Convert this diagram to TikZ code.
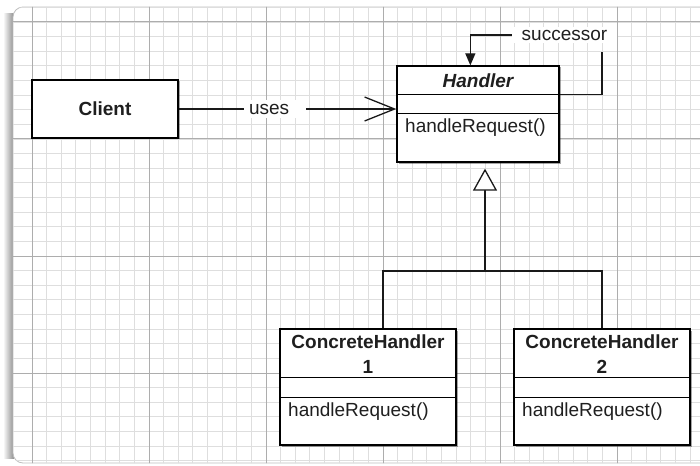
\documentclass[tikz,border=0pt]{standalone}
\usepackage{fontspec}
\setmainfont{Liberation Sans}
\usetikzlibrary{arrows.meta,calc,shadows}
\begin{document}
\begin{tikzpicture}[x=1pt,y=-1pt,
  txt/.style={font=\fontsize{19pt}{24pt}\selectfont, inner sep=0pt, text=black!88},
  txtb/.style={font=\fontsize{19pt}{25pt}\selectfont\bfseries, inner sep=0pt, text=black!88},
  cls/.style={draw=black, line width=1.3pt, fill=white, inner sep=0pt,
    drop shadow={shadow xshift=1.5pt, shadow yshift=-1.5pt, opacity=0.35, fill=black}},
  sep/.style={line width=1.1pt, draw=black},
  conn/.style={line width=1.3pt, draw=black!90},
  minor/.style={draw=black!13, line width=0.8pt},
  major/.style={draw=black!32, line width=1pt}]
\useasboundingbox (0,0) rectangle (700,465);
% paper shadow and paper
\shade[left color=white, right color=black!45] (3,14) rectangle (14,458);
\path[fill=white, draw=black!25, line width=0.8pt, rounded corners=10pt]
  (720,7) -- (13,7) -- (13,463) -- (720,463);
\begin{scope}
  \clip[rounded corners=10pt] (720,7) -- (13,7) -- (13,463) -- (720,463) -- cycle;
  \foreach \i in {0,...,46} {\draw[minor] ({32+14.625*\i},0) -- ++(0,470);}
  \foreach \i in {-1,...,30} {\draw[minor] (0,{22+14.625*\i}) -- ++(720,0);}
  \foreach \i in {0,...,5} {\draw[major] ({32+117*\i},0) -- ++(0,470);}
  \foreach \i in {0,...,3} {\draw[major] (0,{22+117*\i}) -- ++(720,0);}
\end{scope}

% Client
\node[cls, minimum width=146pt, minimum height=58pt] (client) at (105,109) {};
\node[txtb] (clientlbl) at (client.center) {Client};

% Handler
\node[cls, minimum width=162pt, minimum height=96pt] (handler) at (478,114) {};
\draw[sep] ($(handler.north west)+(0,29)$) -- ($(handler.north east)+(0,29)$);
\draw[sep] ($(handler.north west)+(0,48)$) -- ($(handler.north east)+(0,48)$);
\node[txt, font=\fontsize{19pt}{24pt}\selectfont\bfseries\itshape] (hname) at (478,80.5) {Handler};
\node[txt, anchor=west] (hop) at (405,128) {handleRequest()};

% uses
\draw[conn, -{Straight Barb[length=30pt,width=24pt,line width=1.3pt]}]
  (client.east) -- (client.east -| handler.west)
  node[pos=0.443, fill=white, txt, inner ysep=4pt] (uses) {\hspace*{5pt}uses\hspace*{17pt}};

% successor
\node[txt, fill=white, inner xsep=10pt, inner ysep=3pt] (succ) at (564.5,35) {successor};
\coordinate (sucend) at (602,52);
\draw[conn] ($(handler.north east)+(0,29)$) -| (sucend);
\draw[conn, -{Triangle[length=12pt,width=10pt]}] (succ.west) -| ($(handler.north west)+(74,0)$);

% Concrete handlers
\node[cls, minimum width=176pt, minimum height=116pt] (ch1) at (368,387) {};
\draw[sep] ($(ch1.north west)+(0,49)$) -- ($(ch1.north east)+(0,49)$);
\draw[sep] ($(ch1.north west)+(0,69)$) -- ($(ch1.north east)+(0,69)$);
\node[txtb, align=center] (ch1name) at (368,354) {ConcreteHandler\\1};
\node[txt, anchor=west] (ch1op) at (288,412) {handleRequest()};

\node[cls, minimum width=176pt, minimum height=116pt] (ch2) at (602,387) {};
\draw[sep] ($(ch2.north west)+(0,49)$) -- ($(ch2.north east)+(0,49)$);
\draw[sep] ($(ch2.north west)+(0,69)$) -- ($(ch2.north east)+(0,69)$);
\node[txtb, align=center] (ch2name) at (602,354) {ConcreteHandler\\2};
\node[txt, anchor=west] (ch2op) at (522,412) {handleRequest()};

% generalization
\coordinate (junc) at (485,271);
\draw[conn] ($(ch1.north)+(15,0)$) |- (junc) -| (ch2.north);
\draw[conn, -{Triangle[open,length=22pt,width=24pt,fill=white,line width=1.3pt]}, shorten >=6pt]
  (junc) -- ($(handler.south)+(7,0)$);
\end{tikzpicture}
\end{document}
